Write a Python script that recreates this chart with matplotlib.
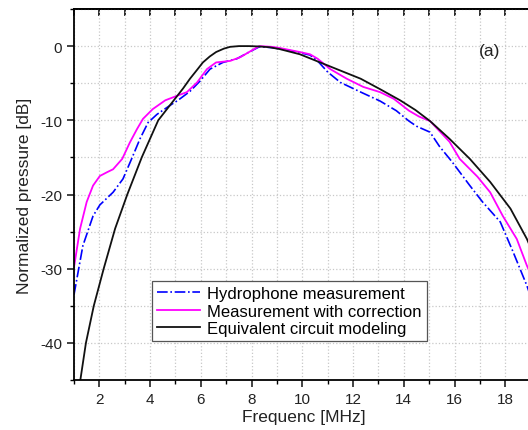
import matplotlib
matplotlib.use('Agg')
import matplotlib.pyplot as plt
from matplotlib.ticker import MultipleLocator, NullFormatter

plt.rcParams['font.family'] = ['Liberation Sans', 'DejaVu Sans']
plt.rcParams['axes.unicode_minus'] = False

# 水听器测量
hyd_f = [1.0, 1.35, 1.75, 2.02, 2.54, 2.93, 3.27, 3.6, 3.92, 4.27, 4.78, 5.1, 5.57, 5.97,
         6.36, 6.87, 7.42, 7.9, 8.3, 8.8, 9.5, 10.3, 10.6, 11.0, 11.5, 12.3, 13.06, 13.7,
         14.2, 14.5, 15.03, 15.4, 15.9, 16.6, 17.1, 17.8, 18.3, 18.85, 19.0]
hyd_p = [-33.5, -26.9, -22.9, -21.4, -19.7, -17.9, -15.2, -12.5, -10.3, -9.2, -8.0, -7.3,
         -6.1, -4.7, -3.1, -2.2, -1.7, -0.8, -0.1, -0.2, -0.6, -1.2, -2.0, -3.5, -4.9, -6.2,
         -7.4, -8.7, -10.1, -10.8, -11.6, -13.5, -15.6, -18.8, -21.0, -23.7, -27.7, -32.3, -33.8]

# 校正后的测量
cor_f = [1.0, 1.24, 1.5, 1.75, 2.02, 2.3, 2.54, 2.9, 3.2, 3.48, 3.72, 4.1, 4.6, 5.06, 5.45,
         5.85, 6.24, 6.6, 7.15, 7.55, 7.9, 8.3, 8.8, 9.1, 9.9, 10.3, 10.6, 11.1, 11.75, 12.4,
         13.06, 13.6, 14.2, 14.6, 15.03, 15.8, 16.2, 16.9, 17.4, 17.9, 18.45, 18.85, 19.1]
cor_p = [-29.8, -24.6, -21.0, -18.8, -17.5, -17.0, -16.6, -15.2, -13.0, -11.2, -9.8, -8.5,
         -7.3, -6.7, -6.2, -4.9, -3.1, -2.2, -2.0, -1.5, -0.8, 0.0, -0.1, -0.25, -0.8, -1.1,
         -1.7, -3.1, -4.4, -5.5, -6.2, -7.1, -8.7, -9.5, -10.1, -12.9, -15.2, -17.6, -19.7,
         -22.9, -26.0, -29.6, -31.5]

# 等效电路模型
mod_f = [1.2, 1.25, 1.47, 1.78, 2.17, 2.62, 3.1, 3.67, 4.32, 4.98, 5.3, 5.57, 5.85, 6.08,
         6.35, 6.6, 6.9, 7.15, 7.5, 7.9, 8.3, 8.7, 9.1, 9.9, 10.7, 11.5, 12.3, 13.06, 13.85,
         14.45, 15.03, 15.8, 16.6, 17.4, 18.2, 18.85, 19.1]
mod_p = [-46.0, -45.0, -40.0, -35.0, -30.0, -24.6, -20.0, -15.0, -10.0, -7.1, -5.7, -4.4,
         -3.2, -2.2, -1.4, -0.8, -0.35, -0.1, 0.0, 0.0, -0.05, -0.15, -0.4, -1.1, -2.2, -3.3,
         -4.4, -5.8, -7.3, -8.6, -10.1, -12.5, -15.2, -18.3, -21.9, -26.0, -28.0]

labels = ['Hydrophone measurement', 'Measurement with correction', 'Equivalent circuit modeling']

fig = plt.figure(figsize=(5.28, 4.31), dpi=100)
ax = fig.add_axes([74/528, 1 - 381/431, 1 - 74/528 + 0.01, (381 - 10)/431])

ax.plot(hyd_f, hyd_p, color='#0000ff', ls='-.', lw=1.2, label=labels[0])
ax.plot(cor_f, cor_p, color='#ff00ff', ls='-', lw=1.3, label=labels[1])
ax.plot(mod_f, mod_p, color='#111111', ls='-', lw=1.3, label=labels[2])

ax.set_xlim(1, 19.1)
ax.set_ylim(-45, 5)

ax.xaxis.set_major_locator(MultipleLocator(2))
ax.xaxis.set_minor_locator(MultipleLocator(1))
ax.yaxis.set_major_locator(MultipleLocator(10))
ax.yaxis.set_minor_locator(MultipleLocator(5))

ax.grid(True, which='both', color='#c8c8c8', ls=':', lw=0.9)
ax.set_axisbelow(True)

ax.spines['right'].set_visible(False)
for s in ['left', 'bottom', 'top']:
    ax.spines[s].set_linewidth(1.3)

ax.tick_params(axis='both', which='major', direction='out', length=5, width=1.2,
               labelsize=11, colors='#222222')
ax.tick_params(axis='both', which='minor', direction='out', length=3, width=1.0)

# 顶部刻度朝内
top = ax.secondary_xaxis('top')
top.xaxis.set_major_locator(MultipleLocator(1))
top.xaxis.set_major_formatter(NullFormatter())
top.tick_params(direction='in', length=5, width=1.2)
top.spines['top'].set_linewidth(1.3)

ax.set_xlabel('Frequenc [MHz]', fontsize=12.5, color='#222222', labelpad=2)
ax.set_ylabel('Normalized pressure [dB]', fontsize=12.5, color='#222222', labelpad=6)

ax.text(0.905, 0.887, '(a)', transform=ax.transAxes, fontsize=12.5, ha='center',
        va='center', color='#222222')

leg = ax.legend(loc='lower left', bbox_to_anchor=(0.17, 0.105), borderaxespad=0,
                fontsize=12, handlelength=2.6, handletextpad=0.4, labelspacing=0.15,
                borderpad=0.3, fancybox=False, framealpha=1, edgecolor='#555555')
leg.get_frame().set_linewidth(0.9)

fig.savefig('out.png', dpi=100)
